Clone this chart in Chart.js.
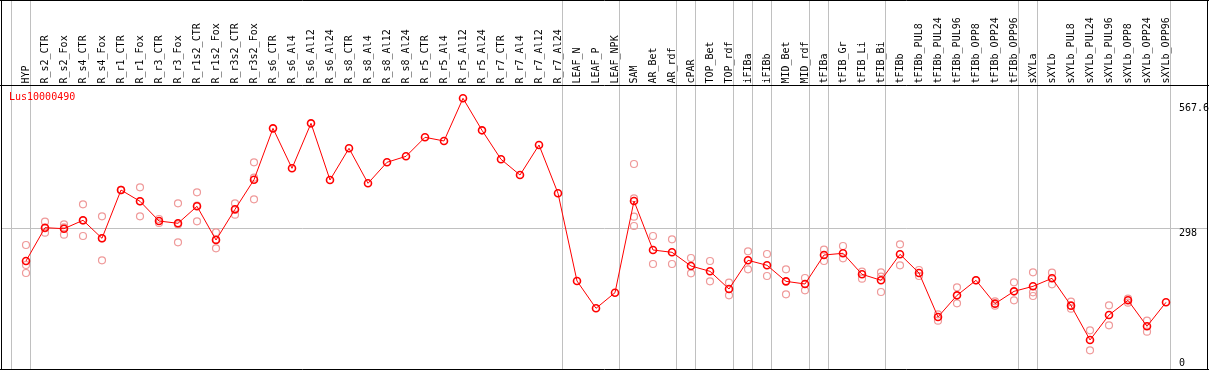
<!DOCTYPE html>
<html>
<head>
<meta charset="utf-8">
<script src="https://cdn.jsdelivr.net/npm/chart.js@4/dist/chart.umd.min.js"></script>
<style>
html,body{margin:0;padding:0;background:#fff;overflow:hidden;}
canvas{display:block;}
</style>
</head>
<body>
<canvas id="c" width="1209" height="370"></canvas>
<script>
const seriesName = 'Lus10000490';
const categories = ['HYP','R_s2_CTR','R_s2_Fox','R_s4_CTR','R_s4_Fox','R_r1_CTR','R_r1_Fox','R_r3_CTR','R_r3_Fox','R_r1s2_CTR','R_r1s2_Fox','R_r3s2_CTR','R_r3s2_Fox','R_s6_CTR','R_s6_Al4','R_s6_Al12','R_s6_Al24','R_s8_CTR','R_s8_Al4','R_s8_Al12','R_s8_Al24','R_r5_CTR','R_r5_Al4','R_r5_Al12','R_r5_Al24','R_r7_CTR','R_r7_Al4','R_r7_Al12','R_r7_Al24','LEAF_N','LEAF_P','LEAF_NPK','SAM','AR_Bet','AR_rdf','cPAR','TOP_Bet','TOP_rdf','iFIBa','iFIBb','MID_Bet','MID_rdf','tFIBa','tFIB_Gr','tFIB_Li','tFIB_Bi','tFIBb','tFIBb_PUL8','tFIBb_PUL24','tFIBb_PUL96','tFIBb_OPP8','tFIBb_OPP24','tFIBb_OPP96','sXYLa','sXYLb','sXYLb_PUL8','sXYLb_PUL24','sXYLb_PUL96','sXYLb_OPP8','sXYLb_OPP24','sXYLb_OPP96'];
const means = [230.2,299.3,297.2,314.6,277.3,377.4,354.0,313.1,308.4,343.6,273.7,337.4,398.8,505.3,422.4,515.7,398.2,463.9,391.3,434.9,447.3,486.7,479.1,567.6,501.2,441.1,408.5,470.8,370.6,188.7,132.1,164.5,354.6,253.0,248.2,219.8,208.8,172.1,231.6,221.3,188.0,182.5,242.6,246.2,202.6,190.2,244.1,205.3,114.1,159.0,190.2,141.7,167.3,177.7,194.3,137.6,66.4,118.2,148.7,94.8,144.5];
const replicates = [
 [263.4,221.9,205.3],[311.7,298,288.9],[306.3,300,284.8],[347.7,314,282.0],[322.9,277,231.6],
 [377,378],[383.0,354,322.9],[317.3,309],[349.8,306,269.0],[372.7,345,312.5],
 [289.7,275,256.5],[349.8,336,326.3],[434.9,403,358.1],
 [],[],[],[],[],[],[],[],[],[],[],[],[],[],[],[],[],[],[],
 [431.4,360.2,322.1,302.8],[282.0,224.0],[275.2,224.0],[236.4,204.6],[230.2,188.0],[185.2,159.0],
 [250.3,213.0],[244.7,199.1],[213.0,161.1],[194.9,169.4],[253.6,230.2],[261.3,235.8],
 [208.0,193.5],[206.7,198,165.9],[264.8,221.3],[211.5,199.1],[119.7,106.4],[175.6,142.5],
 [190.2],[146.6,137.6],[186.0,148.7],[206.7,165.2,157.6],[206.0,181.9],[145.8,131.3],
 [86.4,45.0],[138.3,96.8],[152.0,143.7],[106.4,83.6],[]
];
const groupEnds = [-1,0,28,31,34,35,37,38,39,41,42,45,52,53,60];
const yTickLabels = [0, 298, 567.6];
const gridValue = 298;

const meanPoints = means.map((v,i)=>({x:i,y:v}));
const repPoints = [];
replicates.forEach((arr,i)=>arr.forEach(v=>repPoints.push({x:i,y:v})));

const FONT = '10px "DejaVu Sans Mono", monospace';

const decor = {
  id:'decor',
  beforeDraw(chart){
    const ctx = chart.ctx;
    ctx.save();
    ctx.fillStyle='#fff';
    ctx.fillRect(0,0,chart.width,chart.height);
    ctx.restore();
  },
  beforeDatasetsDraw(chart){
    const ctx = chart.ctx, xs = chart.scales.x, ys = chart.scales.y, a = chart.chartArea;
    ctx.save();
    ctx.strokeStyle='#c0c0c0';
    ctx.lineWidth=1;
    const gy = Math.floor(ys.getPixelForValue(gridValue))+0.5;
    ctx.beginPath(); ctx.moveTo(1,gy); ctx.lineTo(1208,gy); ctx.stroke();
    groupEnds.forEach(i=>{
      const x = Math.floor(xs.getPixelForValue(i)+4.5)+0.5;
      ctx.beginPath(); ctx.moveTo(x,0); ctx.lineTo(x,a.bottom); ctx.stroke();
    });
    ctx.strokeStyle='#000';
    ctx.beginPath();
    ctx.moveTo(0,0.5); ctx.lineTo(1209,0.5);
    ctx.moveTo(1.5,0); ctx.lineTo(1.5,370);
    ctx.moveTo(0,85.5); ctx.lineTo(1209,85.5);
    ctx.moveTo(0,369.5); ctx.lineTo(1209,369.5);
    ctx.stroke();
    ctx.fillStyle='#000';
    ctx.font=FONT;
    ctx.textAlign='left';
    ctx.textBaseline='middle';
    categories.forEach((c,i)=>{
      const x = xs.getPixelForValue(i);
      ctx.save();
      ctx.translate(x,83.5);
      ctx.rotate(-Math.PI/2);
      ctx.fillText(c,0,0);
      ctx.restore();
    });
    ctx.fillStyle='#ff0000';
    ctx.fillText(seriesName,9,97.5);
    ctx.fillStyle='#000';
    ctx.textBaseline='top';
    yTickLabels.forEach(v=>{
      let y = ys.getPixelForValue(v);
      y = Math.max(103, Math.min(358.5, y));
      ctx.fillText(String(v),1179,y);
    });
    ctx.restore();
  },
  afterDraw(chart){
    const ctx = chart.ctx;
    ctx.save();
    ctx.strokeStyle='#000';
    ctx.lineWidth=1;
    ctx.beginPath();
    ctx.moveTo(1207.5,0); ctx.lineTo(1207.5,370);
    ctx.stroke();
    ctx.restore();
  }
};

new Chart(document.getElementById('c'),{
  type:'line',
  data:{
    datasets:[
      {
        label:'mean',
        data:meanPoints,
        order:0,
        borderColor:'#ff0000',
        borderWidth:1,
        pointRadius:3.5,
        pointBorderWidth:1.6,
        pointBorderColor:'#ff0000',
        pointBackgroundColor:'rgba(0,0,0,0)',
        fill:false,
        tension:0
      },
      {
        label:'replicates',
        data:repPoints,
        order:1,
        showLine:false,
        pointRadius:3.5,
        pointBorderWidth:1.2,
        pointBorderColor:'#ef9a9a',
        pointBackgroundColor:'rgba(0,0,0,0)'
      }
    ]
  },
  options:{
    responsive:false,
    animation:false,
    events:[],
    layout:{autoPadding:false,padding:{left:2,right:2,top:85,bottom:1}},
    plugins:{legend:{display:false},tooltip:{enabled:false},title:{display:false}},
    scales:{
      x:{type:'linear',min:-1.263158,max:62.157895,display:false},
      y:{type:'linear',min:6.22,max:595.2,display:false}
    }
  },
  plugins:[decor]
});
</script>
</body>
</html>
